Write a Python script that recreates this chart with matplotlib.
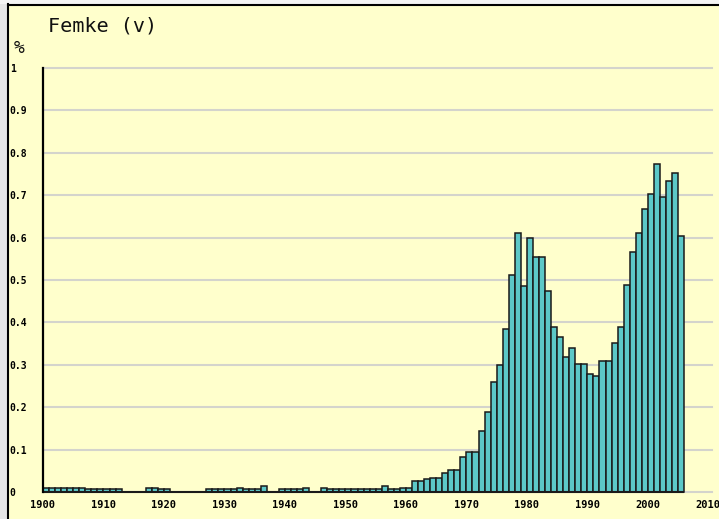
import matplotlib
matplotlib.use('Agg')
import matplotlib.pyplot as plt
from matplotlib.patches import Rectangle
from matplotlib.lines import Line2D

# jaren en aandeel (%) voor de naam Femke
years = list(range(1900, 2006))
values = [
    0.01, 0.01, 0.01, 0.01, 0.01, 0.01, 0.01,          # 1900-1906
    0.006, 0.006, 0.006, 0.006, 0.006, 0.006,          # 1907-1912
    0, 0, 0, 0,                                        # 1913-1916
    0.01, 0.01, 0.006, 0.006,                          # 1917-1920
    0, 0, 0, 0, 0, 0,                                  # 1921-1926
    0.006, 0.006, 0.006, 0.006, 0.006, 0.01,           # 1927-1932
    0.006, 0.006, 0.006, 0.015, 0, 0,                  # 1933-1938
    0.006, 0.006, 0.006, 0.006, 0.01, 0, 0, 0.01,      # 1939-1946
    0.006, 0.006, 0.006, 0.006, 0.006, 0.006, 0.006, 0.006, 0.006,  # 1947-1955
    0.014, 0.006, 0.006, 0.01, 0.01,                   # 1956-1960
    0.026, 0.026, 0.030, 0.034, 0.034,                 # 1961-1965
    0.045, 0.052, 0.052, 0.082, 0.095,                 # 1966-1970
    0.095, 0.145, 0.189, 0.259, 0.300,                 # 1971-1975
    0.385, 0.511, 0.610, 0.485, 0.599,                 # 1976-1980
    0.554, 0.554, 0.474, 0.389, 0.366,                 # 1981-1985
    0.318, 0.340, 0.303, 0.303, 0.278,                 # 1986-1990
    0.274, 0.310, 0.310, 0.352, 0.389,                 # 1991-1995
    0.488, 0.567, 0.611, 0.667, 0.704,                 # 1996-2000
    0.774, 0.696, 0.733, 0.752, 0.604,                 # 2001-2005
]
x_ticks = list(range(1900, 2011, 10))
y_ticks = [0, 0.1, 0.2, 0.3, 0.4, 0.5, 0.6, 0.7, 0.8, 0.9, 1]
y_labels = ['0', '0.1', '0.2', '0.3', '0.4', '0.5', '0.6', '0.7', '0.8', '0.9', '1']

W, H = 719, 519
bg = '#FFFFCC'
fig = plt.figure(figsize=(W / 100, H / 100), dpi=100, facecolor=bg)

# rand links en boven
fig.patches.append(Rectangle((0, 0), 7 / W, 1, transform=fig.transFigure,
                             facecolor='#E6E6E6', edgecolor='none', zorder=0))
fig.patches.append(Rectangle((0, 1 - 4 / H), 1, 4 / H, transform=fig.transFigure,
                             facecolor='#F4F4F4', edgecolor='none', zorder=0))
fig.lines.append(Line2D([7.5 / W, 7.5 / W], [0, 1 - 4 / H], transform=fig.transFigure,
                        color='black', lw=1.5))
fig.lines.append(Line2D([7.5 / W, 1], [1 - 4.5 / H, 1 - 4.5 / H], transform=fig.transFigure,
                        color='black', lw=1.5))

ax = fig.add_axes([43 / W, (H - 492) / H, (712 - 43) / W, 424 / H])
ax.set_facecolor(bg)

for y in y_ticks:
    ax.axhline(y, color='#D4D4CC', lw=1.5, zorder=1, clip_on=False)

ax.bar(years, values, width=1, align='edge', color='#5CC8C8',
       edgecolor='#1A1A1A', linewidth=1.1, zorder=3, clip_on=False)
# nulwaarden als zwarte lijn langs de basis
ax.plot([years[0], years[-1] + 1], [0, 0], color='#1A1A1A', lw=1.5, zorder=4,
        solid_capstyle='butt', clip_on=False)

ax.set_xlim(1900, 2010.6)
ax.set_ylim(0, 1)

for s in ['top', 'right', 'bottom']:
    ax.spines[s].set_visible(False)
ax.spines['left'].set_linewidth(1.6)
ax.spines['left'].set_zorder(5)

ax.set_xticks(x_ticks)
ax.set_xticklabels([str(t) for t in x_ticks], fontfamily='DejaVu Sans Mono',
                   fontweight='bold', fontsize=7.5)
ax.set_yticks(y_ticks)
ax.set_yticklabels(y_labels, fontfamily='DejaVu Sans Mono',
                   fontweight='bold', fontsize=7)
ax.tick_params(axis='both', length=0)
ax.tick_params(axis='x', pad=6)
ax.tick_params(axis='y', pad=24)
for lbl in ax.get_yticklabels():
    lbl.set_horizontalalignment('left')

fig.text(48 / W, 1 - 31 / H, 'Femke (v)', fontfamily='DejaVu Sans Mono',
         fontsize=14.5, ha='left', va='baseline', color='#111111')
fig.text(14 / W, 1 - 53 / H, '%', fontfamily='DejaVu Sans Mono',
         fontsize=13, ha='left', va='baseline', color='#111111')

fig.savefig('out.png', dpi=100, facecolor=bg)
